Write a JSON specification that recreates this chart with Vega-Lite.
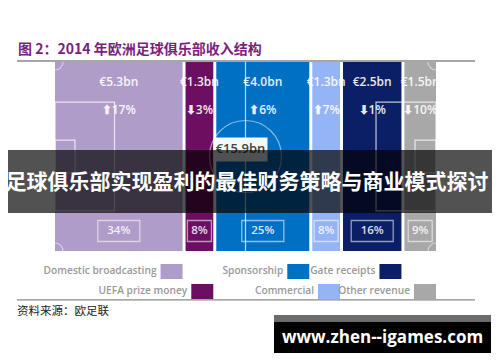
{
  "$schema": "https://vega.github.io/schema/vega-lite/v6.json",
  "width": 458,
  "height": 239,
  "autosize": {"type": "none"},
  "padding": {"left": 17, "top": 61, "right": 25, "bottom": 62},
  "background": "white",
  "config": {
    "view": {"stroke": null},
    "locale": {"number": {"decimal": ".", "thousands": ",", "grouping": [3], "currency": ["€", "bn"]}}
  },
  "data": {"values": [
    {"source": "Domestic broadcasting", "order": 1, "revenue": 5.3, "change": 17, "share": 0.34},
    {"source": "UEFA prize money", "order": 2, "revenue": 1.3, "change": -3, "share": 0.08},
    {"source": "Sponsorship", "order": 3, "revenue": 4.0, "change": 6, "share": 0.25},
    {"source": "Commercial", "order": 4, "revenue": 1.3, "change": 7, "share": 0.08},
    {"source": "Gate receipts", "order": 5, "revenue": 2.5, "change": -1, "share": 0.16},
    {"source": "Other revenue", "order": 6, "revenue": 1.5, "change": -10, "share": 0.09}
  ]},
  "transform": [
    {"stack": "share", "groupby": [], "sort": [{"field": "order", "order": "ascending"}], "as": ["x0", "x1"]},
    {"calculate": "(datum.x0 + datum.x1) / 2", "as": "mid"},
    {"calculate": "(datum.change >= 0 ? '⬆' : '⬇') + abs(datum.change) + '%'", "as": "changeLabel"},
    {"calculate": "datum.order % 2", "as": "legendRow"}
  ],
  "layer": [
    {
      "mark": {"type": "rect", "x2Offset": -3},
      "encoding": {
        "x": {"field": "x0", "type": "quantitative", "scale": {"domain": [-0.09896, 1.09375], "nice": false, "zero": false}, "axis": null},
        "x2": {"field": "x1"},
        "y": {"datum": 0, "type": "quantitative", "scale": {"domain": [-0.25926, 1.00529], "nice": false, "zero": false}, "axis": null},
        "y2": {"datum": 1},
        "color": {"field": "source", "type": "nominal", "legend": null,
                  "scale": {"domain": ["Domestic broadcasting", "UEFA prize money", "Sponsorship", "Commercial", "Gate receipts", "Other revenue"],
                            "range": ["#b09cc8", "#6c0f62", "#0070c4", "#94b4f6", "#0b1f66", "#a8a8a8"]}}
      }
    },
    {
      "data": {"values": [{}]},
      "layer": [
        {"mark": {"type": "rule", "stroke": "white", "strokeOpacity": 0.75, "strokeWidth": 1.2, "xOffset": -1.5},
         "encoding": {"x": {"datum": 0.5, "type": "quantitative"}, "y": {"datum": 0, "type": "quantitative"}, "y2": {"datum": 1}}},
        {"mark": {"type": "rect", "filled": false, "stroke": "white", "strokeOpacity": 0.75, "strokeWidth": 1.2},
         "encoding": {"x": {"datum": 0, "type": "quantitative"}, "x2": {"datum": 0.155}, "y": {"datum": 0.212, "type": "quantitative"}, "y2": {"datum": 0.788}}},
        {"mark": {"type": "rect", "filled": false, "stroke": "white", "strokeOpacity": 0.75, "strokeWidth": 1.2, "x2Offset": -3},
         "encoding": {"x": {"datum": 0.836, "type": "quantitative"}, "x2": {"datum": 1}, "y": {"datum": 0.212, "type": "quantitative"}, "y2": {"datum": 0.788}}},
        {"mark": {"type": "rect", "filled": false, "stroke": "white", "strokeOpacity": 0.75, "strokeWidth": 1.2},
         "encoding": {"x": {"datum": 0, "type": "quantitative"}, "x2": {"datum": 0.052}, "y": {"datum": 0.413, "type": "quantitative"}, "y2": {"datum": 0.587}}},
        {"mark": {"type": "rect", "filled": false, "stroke": "white", "strokeOpacity": 0.75, "strokeWidth": 1.2, "x2Offset": -3},
         "encoding": {"x": {"datum": 0.9375, "type": "quantitative"}, "x2": {"datum": 1}, "y": {"datum": 0.413, "type": "quantitative"}, "y2": {"datum": 0.587}}},
        {"mark": {"type": "point", "shape": "circle", "size": 5184, "filled": false, "stroke": "white", "strokeOpacity": 0.75, "strokeWidth": 1.2, "xOffset": -1.5},
         "encoding": {"x": {"datum": 0.5, "type": "quantitative"}, "y": {"datum": 0.5, "type": "quantitative"}}},
        {"mark": {"type": "point", "shape": "circle", "size": 256, "filled": false, "stroke": "white", "strokeOpacity": 0.75, "strokeWidth": 1.2},
         "encoding": {"x": {"datum": 0, "type": "quantitative"}, "y": {"datum": 1, "type": "quantitative"}}},
        {"mark": {"type": "point", "shape": "circle", "size": 256, "filled": false, "stroke": "white", "strokeOpacity": 0.75, "strokeWidth": 1.2},
         "encoding": {"x": {"datum": 0, "type": "quantitative"}, "y": {"datum": 0, "type": "quantitative"}}},
        {"mark": {"type": "point", "shape": "circle", "size": 256, "filled": false, "stroke": "white", "strokeOpacity": 0.75, "strokeWidth": 1.2, "xOffset": -3},
         "encoding": {"x": {"datum": 1, "type": "quantitative"}, "y": {"datum": 1, "type": "quantitative"}}},
        {"mark": {"type": "point", "shape": "circle", "size": 256, "filled": false, "stroke": "white", "strokeOpacity": 0.75, "strokeWidth": 1.2, "xOffset": -3},
         "encoding": {"x": {"datum": 1, "type": "quantitative"}, "y": {"datum": 0, "type": "quantitative"}}},
        {"mark": {"type": "text", "text": "图 2：2014 年欧洲足球俱乐部收入结构", "font": "Noto Sans CJK SC", "fontSize": 14, "fontWeight": "bold", "color": "#7a1f7e", "align": "left", "baseline": "middle", "dx": 1, "dy": 2},
         "encoding": {"x": {"datum": -0.09896, "type": "quantitative"}, "y": {"datum": 1.0741, "type": "quantitative"}}},
        {"mark": {"type": "text", "text": "资料来源：欧足联", "font": "Noto Sans CJK SC", "fontSize": 11.5, "color": "#222222", "align": "left", "baseline": "middle", "dy": 2},
         "encoding": {"x": {"datum": -0.09896, "type": "quantitative"}, "y": {"datum": -0.3122, "type": "quantitative"}}}
      ]
    },
    {
      "mark": {"type": "text", "font": "Open Sans", "fontSize": 12, "fontWeight": 600, "color": "white", "opacity": 0.9, "baseline": "middle", "yOffset": 20, "xOffset": -1.5},
      "encoding": {
        "x": {"field": "mid", "type": "quantitative"},
        "y": {"datum": 1, "type": "quantitative"},
        "text": {"field": "revenue", "type": "quantitative", "format": "$.1f"}
      }
    },
    {
      "mark": {"type": "text", "font": "Open Sans", "fontSize": 12, "fontWeight": 600, "color": "white", "opacity": 0.9, "baseline": "middle", "yOffset": 48, "xOffset": -1.5},
      "encoding": {
        "x": {"field": "mid", "type": "quantitative"},
        "y": {"datum": 1, "type": "quantitative"},
        "text": {"field": "changeLabel", "type": "nominal"}
      }
    },
    {
      "transform": [{"filter": "datum.share >= 0.1"}],
      "mark": {"type": "point", "shape": "M-1,-0.5H1V0.5H-1Z", "size": 1764, "filled": false, "stroke": "white", "strokeOpacity": 0.8, "strokeWidth": 1.3, "yOffset": -20, "xOffset": -1.5},
      "encoding": {
        "x": {"field": "mid", "type": "quantitative"},
        "y": {"datum": 0, "type": "quantitative"}
      }
    },
    {
      "transform": [{"filter": "datum.share < 0.1"}],
      "mark": {"type": "point", "shape": "M-1,-0.875H1V0.875H-1Z", "size": 576, "filled": false, "stroke": "white", "strokeOpacity": 0.8, "strokeWidth": 1.3, "yOffset": -20, "xOffset": -1.5},
      "encoding": {
        "x": {"field": "mid", "type": "quantitative"},
        "y": {"datum": 0, "type": "quantitative"}
      }
    },
    {
      "mark": {"type": "text", "font": "Open Sans", "fontSize": 11.5, "fontWeight": 600, "color": "white", "opacity": 0.85, "baseline": "middle", "yOffset": -20, "xOffset": -1.5},
      "encoding": {
        "x": {"field": "mid", "type": "quantitative"},
        "y": {"datum": 0, "type": "quantitative"},
        "text": {"field": "share", "type": "quantitative", "format": ".0%"}
      }
    },
    {
      "transform": [{"aggregate": [{"op": "sum", "field": "revenue", "as": "total"}]}],
      "layer": [
        {"mark": {"type": "point", "shape": "M-1,-0.44H1V0.44H-1Z", "size": 2916, "filled": true, "color": "white", "opacity": 0.95, "xOffset": -6.5, "yOffset": -7},
         "encoding": {"x": {"datum": 0.5, "type": "quantitative"}, "y": {"datum": 0.5, "type": "quantitative"}}},
        {"mark": {"type": "text", "font": "Open Sans", "fontSize": 13, "fontWeight": 600, "color": "#444444", "baseline": "middle", "xOffset": -6.5, "yOffset": -7},
         "encoding": {"x": {"datum": 0.5, "type": "quantitative"}, "y": {"datum": 0.5, "type": "quantitative"},
                      "text": {"field": "total", "type": "quantitative", "format": "$.1f"}}}
      ]
    },
    {
      "transform": [{"filter": "datum.legendRow == 1"}],
      "mark": {"type": "point", "shape": "M-2,-0.68H0V0.68H-2Z", "size": 484, "filled": true, "opacity": 1, "strokeWidth": 0, "xOffset": -3, "yOffset": 20.5},
      "encoding": {
        "x": {"field": "x1", "type": "quantitative"},
        "y": {"datum": 0, "type": "quantitative"},
        "color": {"field": "source", "type": "nominal", "legend": null}
      }
    },
    {
      "transform": [{"filter": "datum.legendRow == 0"}],
      "mark": {"type": "point", "shape": "M-2,-0.68H0V0.68H-2Z", "size": 484, "filled": true, "opacity": 1, "strokeWidth": 0, "xOffset": -3, "yOffset": 40.5},
      "encoding": {
        "x": {"field": "x1", "type": "quantitative"},
        "y": {"datum": 0, "type": "quantitative"},
        "color": {"field": "source", "type": "nominal", "legend": null}
      }
    },
    {
      "transform": [{"filter": "datum.legendRow == 1"}],
      "mark": {"type": "text", "font": "Open Sans", "fontSize": 10.2, "fontWeight": 600, "color": "#999999", "align": "right", "baseline": "middle", "dx": -29, "yOffset": 20},
      "encoding": {
        "x": {"field": "x1", "type": "quantitative"},
        "y": {"datum": 0, "type": "quantitative"},
        "text": {"field": "source", "type": "nominal"}
      }
    },
    {
      "transform": [{"filter": "datum.legendRow == 0"}],
      "mark": {"type": "text", "font": "Open Sans", "fontSize": 10.2, "fontWeight": 600, "color": "#999999", "align": "right", "baseline": "middle", "dx": -29, "yOffset": 40.5},
      "encoding": {
        "x": {"field": "x1", "type": "quantitative"},
        "y": {"datum": 0, "type": "quantitative"},
        "text": {"field": "source", "type": "nominal"}
      }
    },
    {
      "data": {"values": [{}]},
      "layer": [
        {"mark": {"type": "rect", "color": "#888888", "opacity": 1},
         "encoding": {"x": {"datum": -0.09896, "type": "quantitative"}, "x2": {"datum": 1.09375}, "y": {"datum": 1.0093, "type": "quantitative"}, "y2": {"datum": 1.0013}}},
        {"mark": {"type": "rect", "color": "#888888", "opacity": 1},
         "encoding": {"x": {"datum": -0.09896, "type": "quantitative"}, "x2": {"datum": 1.09375}, "y": {"datum": -0.2553, "type": "quantitative"}, "y2": {"datum": -0.2624}}},
        {"mark": {"type": "rect", "color": "black", "opacity": 0.68},
         "encoding": {"x": {"datum": -0.1224, "type": "quantitative"}, "x2": {"datum": 1.138}, "y": {"datum": 0.201, "type": "quantitative"}, "y2": {"datum": 0.534}}},
        {"mark": {"type": "text", "text": "足球俱乐部实现盈利的最佳财务策略与商业模式探讨", "font": "Noto Sans CJK SC", "fontSize": 21, "fontWeight": "bold", "color": "white", "baseline": "middle"},
         "encoding": {"x": {"datum": 0.5, "type": "quantitative"}, "y": {"datum": 0.362, "type": "quantitative"}}},
        {"mark": {"type": "rect", "color": "black"},
         "encoding": {"x": {"datum": 0.5703, "type": "quantitative"}, "x2": {"datum": 1.1354}, "y": {"datum": -0.3386, "type": "quantitative"}, "y2": {"datum": -0.5397}}},
        {"mark": {"type": "rect", "color": "#6b6b6b"},
         "encoding": {"x": {"datum": 0.5703, "type": "quantitative"}, "x2": {"datum": 1.1354}, "y": {"datum": -0.3386, "type": "quantitative"}, "y2": {"datum": -0.3757}}},
        {"mark": {"type": "text", "text": "www.zhen--igames.com", "font": "Open Sans", "fontSize": 17, "fontWeight": "bold", "color": "white", "baseline": "middle"},
         "encoding": {"x": {"datum": 0.853, "type": "quantitative"}, "y": {"datum": -0.4603, "type": "quantitative"}}}
      ]
    }
  ]
}
